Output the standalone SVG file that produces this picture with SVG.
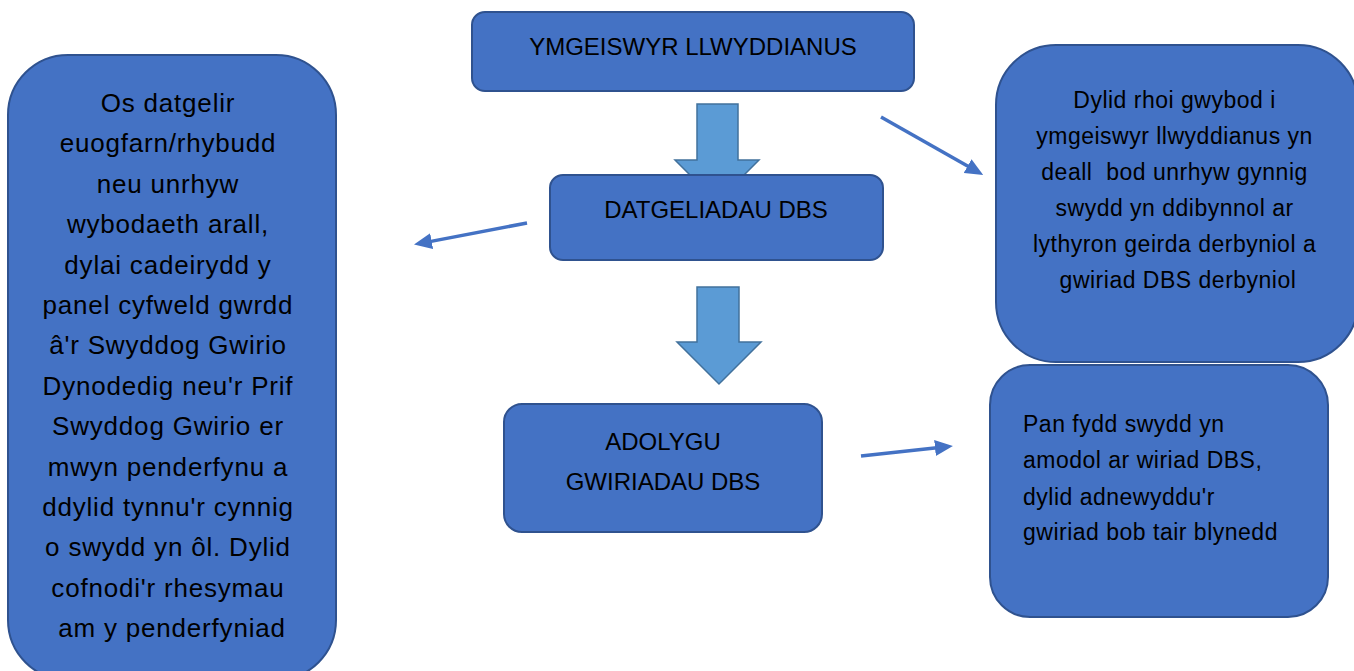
<svg xmlns="http://www.w3.org/2000/svg" width="1354" height="671" viewBox="0 0 1354 671">
<style>
.box{fill:#4472C4;stroke:#2F528F;stroke-width:2}
.blk{fill:#5B9BD5;stroke:#41719C;stroke-width:1.5}
.t{font-family:"Liberation Sans",Arial,sans-serif;fill:#000}
.cap{font-size:24px;text-anchor:middle}
.lb{font-size:26px;text-anchor:middle;letter-spacing:0.8px}
.rb{font-size:23px;text-anchor:middle;letter-spacing:0.5px}
.br{font-size:23px;letter-spacing:0.5px}
.con{stroke:#4472C4;stroke-width:3.5;fill:none}
</style>
<defs>
<marker id="ah" markerUnits="userSpaceOnUse" markerWidth="18" markerHeight="16" refX="2" refY="8" orient="auto">
<path d="M0,0 L18,8 L0,16 Z" fill="#4472C4"/>
</marker>
</defs>
<rect width="1354" height="671" fill="#fff"/>
<g id="blockarrows">
<polygon class="blk" points="697,104 738,104 738,160 759,160 717,202 675,160 697,160"/>
<polygon class="blk" points="697,287 739,287 739,342 761,342 719,384 677,342 697,342"/>
</g>
<g id="node-top">
<rect class="box" x="472" y="12" width="442" height="79" rx="13"/>
<text class="t cap" x="693" y="55">YMGEISWYR LLWYDDIANUS</text>
</g>
<g id="node-datgeliadau">
<rect class="box" x="550" y="175" width="333" height="85" rx="13"/>
<text class="t cap" x="716" y="218">DATGELIADAU DBS</text>
</g>
<g id="node-adolygu">
<rect class="box" x="504" y="404" width="318" height="128" rx="18"/>
<text class="t cap" x="663" y="450">ADOLYGU</text>
<text class="t cap" x="663" y="490">GWIRIADAU DBS</text>
</g>
<g id="node-left">
<rect class="box" x="8" y="55" width="328" height="625" rx="60"/>
<text class="t lb">
<tspan x="172" y="112">Os datgelir</tspan>
<tspan x="172" y="152.4">euogfarn/rhybudd</tspan>
<tspan x="172" y="192.8">neu unrhyw</tspan>
<tspan x="172" y="233.2">wybodaeth arall,</tspan>
<tspan x="172" y="273.6">dylai cadeirydd y</tspan>
<tspan x="172" y="314">panel cyfweld gwrdd</tspan>
<tspan x="172" y="354.4">â'r Swyddog Gwirio</tspan>
<tspan x="172" y="394.8">Dynodedig neu'r Prif</tspan>
<tspan x="172" y="435.2">Swyddog Gwirio er</tspan>
<tspan x="172" y="475.6">mwyn penderfynu a</tspan>
<tspan x="172" y="516">ddylid tynnu'r cynnig</tspan>
<tspan x="172" y="556.4">o swydd yn ôl. Dylid</tspan>
<tspan x="172" y="596.8">cofnodi'r rhesymau</tspan>
<tspan x="172" y="637.2">am y penderfyniad</tspan>
</text>
</g>
<g id="node-right-top">
<rect class="box" x="996" y="45" width="362" height="317" rx="60"/>
<text class="t rb">
<tspan x="1178" y="108">Dylid rhoi gwybod i</tspan>
<tspan x="1178" y="144">ymgeiswyr llwyddianus yn</tspan>
<tspan x="1178" y="180">deall&#160; bod unrhyw gynnig</tspan>
<tspan x="1178" y="216">swydd yn ddibynnol ar</tspan>
<tspan x="1178" y="252">lythyron geirda derbyniol a</tspan>
<tspan x="1178" y="288">gwiriad DBS derbyniol</tspan>
</text>
</g>
<g id="node-right-bottom">
<rect class="box" x="990" y="365" width="338" height="252" rx="40"/>
<text class="t br">
<tspan x="1023" y="432">Pan fydd swydd yn</tspan>
<tspan x="1023" y="468">amodol ar wiriad DBS,</tspan>
<tspan x="1023" y="505">dylid adnewyddu'r</tspan>
<tspan x="1023" y="540">gwiriad bob tair blynedd</tspan>
</text>
</g>
<g id="connectors">
<line class="con" x1="527" y1="223" x2="429.7" y2="241.6" marker-end="url(#ah)"/>
<line class="con" x1="881" y1="117" x2="969.3" y2="167.1" marker-end="url(#ah)"/>
<line class="con" x1="861" y1="456" x2="937" y2="447.8" marker-end="url(#ah)"/>
</g>
</svg>
